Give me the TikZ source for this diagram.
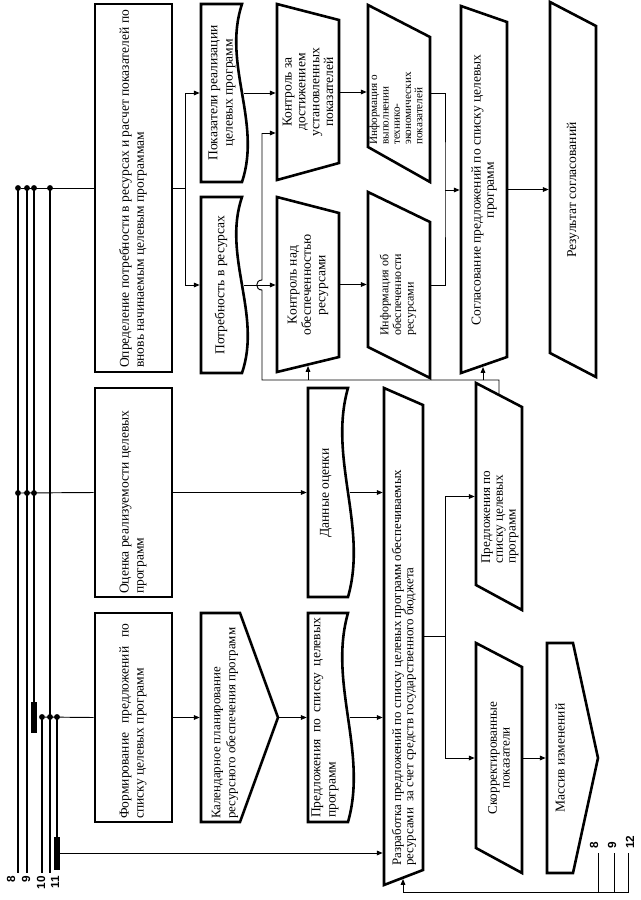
\documentclass[tikz,border=0pt]{standalone}
\usepackage{fontspec}
\setmainfont{Liberation Serif}
\newfontfamily\lblfont{Liberation Sans}
\usetikzlibrary{arrows.meta,fit}
\begin{document}
\begin{tikzpicture}[x=0.85pt,y=-0.85pt,
  shp/.style={line width=2.2pt, line join=miter},
  bb/.style={inner sep=0pt, outer sep=1.1pt},
  rbox/.style={bb, draw, line width=2.2pt},
  con/.style={line width=0.8pt},
  arr/.style={con, -{Triangle[length=5pt,width=4pt]}},
  bus/.style={line width=1pt},
  txt/.style={rotate=90, inner sep=0pt, font=\fontsize{11.5}{12.8}\selectfont},
  stxt/.style={rotate=90, inner sep=0pt, font=\fontsize{9.5}{9.6}\selectfont},
  lbl/.style={rotate=90, inner sep=0pt, font=\lblfont\bfseries\fontsize{10}{11}\selectfont},
  dot/.style={circle, fill, inner sep=0pt, minimum size=5pt}
]
\useasboundingbox (0,0) rectangle (641,900);

% ---------- column A ----------
\node[rbox, fit={(95,4)(172,372)}] (opr) {};
\node[txt, align=left, anchor=west] (oprt) at (133,368) {Определение потребности в ресурсах и расчет показателей по\\вновь начинаемым целевым программам};
\node[rbox, fit={(95,388)(172,597)}] (ots) {};
\node[txt, align=left, anchor=west] (otst) at (133,594) {Оценка реализуемости целевых\\программ};
\node[rbox, fit={(95,613)(172,822)}] (form) {};
\node[txt, align=justify, text width=166pt, anchor=west] (formt) at (133,819) {Формирование предложений по\linebreak списку целевых программ};

% ---------- column B ----------
\node[bb, fit={(201,4)(243,182)}] (pok) {};
\draw[shp] (201,4) -- (242,4) .. controls (222,64) and (262,122) .. (242,182) -- (201,182) -- cycle;
\node[txt, align=center] (pokt) at (222,93) {Показатели реализации\\целевых программ};
\node[bb, fit={(201,197)(243,373)}] (potr) {};
\draw[shp] (201,197) -- (242,197) .. controls (222,256) and (262,314) .. (242,373) -- (201,373) -- cycle;
\node[txt] (potrt) at (221,285) {Потребность в ресурсах};
\node[bb, fit={(201,613)(278,822)}] (kal) {};
\draw[shp] (201,613) -- (240,613) -- (278,717.5) -- (240,822) -- (201,822) -- cycle;
\node[txt, font=\fontsize{11}{12.8}\selectfont, align=left, anchor=west] (kalt) at (225,819) {Календарное планирование\\ресурсного обеспечения программ};

% ---------- column C ----------
\node[bb, fit={(277,4)(339,180)}] (kz) {};
\draw[shp] (277,4) -- (339,20) -- (339,163) -- (277,180) -- cycle;
\node[txt, font=\fontsize{11.5}{11.8}\selectfont, align=center] (kzt) at (308,92) {Контроль за\\достижением\\установленных\\показателей};
\node[bb, fit={(277,197)(339,372)}] (kn) {};
\draw[shp] (277,197) -- (339,213) -- (339,357) -- (277,372) -- cycle;
\node[txt, font=\fontsize{11.5}{12.2}\selectfont, align=center] (knt) at (308,285) {Контроль над\\обеспеченностью\\ресурсами};
\node[bb, fit={(308,388)(349,597)}] (dan) {};
\draw[shp] (308,388) -- (348,388) .. controls (328,458) and (368,527) .. (348,597) -- (308,597) -- cycle;
\node[txt] (dant) at (326,493) {Данные оценки};
\node[bb, fit={(308,613)(349,822)}] (predA) {};
\draw[shp] (308,613) -- (348,613) .. controls (328,683) and (368,752) .. (348,822) -- (308,822) -- cycle;
\node[txt, align=justify, text width=170pt, anchor=west] (predAt) at (325,818) {Предложения по списку целевых\linebreak программ};

% ---------- column D ----------
\node[bb, fit={(368,5)(430,182)}] (infA) {};
\draw[shp] (368,5) -- (430,37) -- (430,182) -- (368,147) -- cycle;
\node[stxt, align=left, anchor=west] (infAt) at (396,145) {Информация о\\выполнении\\технико-\\экономических\\показателей};
\node[bb, fit={(368,192)(430,378)}] (infB) {};
\draw[shp] (368,192) -- (430,222) -- (430,378) -- (368,347) -- cycle;
\node[stxt, font=\fontsize{10.2}{10.8}\selectfont, align=left, anchor=west] (infBt) at (398,336) {Информация об\\обеспеченности\\ресурсами};
\node[bb, fit={(384,388)(423,885)}] (razr) {};
\draw[shp] (384,388) -- (423,405) -- (423,870) -- (384,885) -- cycle;
\node[txt, font=\fontsize{11}{10.5}\selectfont, align=left, anchor=west] (razrt) at (404,866) {Разработка предложений по списку целевых программ обеспечиваемых\\ресурсами\ \ за счет средств государственного бюджета};

% ---------- column E ----------
\node[bb, fit={(461,6)(507,373)}] (sogl) {};
\draw[shp] (461,6) -- (507,22) -- (507,357) -- (461,373) -- cycle;
\node[txt, font=\fontsize{11.5}{11.2}\selectfont, align=center] (soglt) at (484,190) {Согласование предложений по списку целевых\\программ};
\node[bb, fit={(476,383)(522,610)}] (predB) {};
\draw[shp] (476,383) -- (522,407) -- (522,610) -- (476,585) -- cycle;
\node[txt, font=\fontsize{11.2}{10.8}\selectfont, align=left, anchor=west] (predBt) at (500,564) {Предложения по\\списку целевых\\программ};
\node[bb, fit={(476,643)(522,873)}] (skor) {};
\draw[shp] (476,643) -- (522,667) -- (522,873) -- (476,848) -- cycle;
\node[txt, font=\fontsize{11.2}{10.8}\selectfont, align=center] (skort) at (499,758) {Скорректированные\\показатели};

% ---------- column F ----------
\node[bb, fit={(550,2)(596,377)}] (res) {};
\draw[shp] (550,2) -- (596,26) -- (596,377) -- (550,353) -- cycle;
\node[txt] (rest) at (573,190) {Результат согласований};
\node[bb, fit={(547,643)(598,873)}] (mas) {};
\draw[shp] (547,643) -- (573,643) -- (598,758) -- (573,873) -- (547,873) -- cycle;
\node[txt] (mast) at (560,758) {Массив изменений};

% ---------- bus lines ----------
\draw[bus] (18,188) -- (18,873);
\draw[bus] (27,188) -- (27,873);
\draw[bus] (34,188) -- (34,702);
\draw[bus] (50,188) -- (50,873);
\draw[bus] (42,717) -- (42,873);
\draw[bus] (57,717) -- (57,837);
\fill (31,702) rectangle (37,733);
\fill (54,837) rectangle (60,870);
\node[dot] (dA1) at (18,188) {};
\node[dot] (dA2) at (27,188) {};
\node[dot] (dA3) at (34,188) {};
\node[dot] (dA4) at (50,188) {};
\node[dot] (dB1) at (18,493) {};
\node[dot] (dB2) at (27,493) {};
\node[dot] (dB3) at (34,493) {};
\node[dot] (dC1) at (42,717) {};
\node[dot] (dC2) at (50,717) {};
\node[dot] (dC3) at (57,717) {};
\draw[con] (dA1) -- (opr.west);
\draw[con] (dB1) -- (ots.west);
\draw[con] (dC1) -- (form.west);
\coordinate (barB) at (60,853);
\draw[arr] (barB) -- (barB -| razr.west);

\node[lbl, anchor=east] (lA) at (11,876) {8};
\node[lbl, anchor=east] (lB) at (26,876) {9};
\node[lbl, anchor=east] (lC) at (41,876) {10};
\node[lbl, anchor=east] (lD) at (55,876) {11};

% ---------- connectors ----------
\coordinate (b1) at (185,188);
\draw[con] (opr.east) -- (b1);
\draw[arr] (b1) |- (pok.west);
\draw[arr] (b1) |- (potr.west);
\draw[arr] (pok.east) -- (pok.east -| kz.west);
\draw[arr] (potr.east) -- (potr.east -| kn.west);
\draw[arr] (kz.east) -- (kz.east -| infA.west);
\draw[arr] (kn.east) -- (kn.east -| infB.west);
\coordinate (j1) at (445,190);
\draw[con] (infA.east) -| (j1) |- (infB.east);
\draw[arr] (j1) -- (j1 -| sogl.west);
\draw[arr] (sogl.east) -- (sogl.east -| res.west);

\draw[arr] (ots.east) -- (ots.east -| dan.west);
\draw[arr] (dan.east) -- (dan.east -| razr.west);
\draw[arr] (form.east) -- (form.east -| kal.west);
\draw[arr] (kal.east) -- (kal.east -| predA.west);
\draw[arr] (predA.east) -- (predA.east -| razr.west);

\coordinate (j2) at (445,636.5);
\draw[con] (razr.east) -- (j2);
\draw[arr] (j2) |- (predB.west);
\draw[arr] (j2) |- (skor.west);
\draw[arr] (skor.east) -- (skor.east -| mas.west);

% feedback from predB
\coordinate (p2t) at (499,394);
\coordinate (fb) at (262,133);
\coordinate (upS) at (483,380);
\coordinate (upK) at (308,380);
\draw[con] (p2t) -- (499,380) -- (262,380) -- (262,290) .. controls (255,290) and (255,280) .. (262,280) -- (fb);
\draw[arr] (fb) -- (fb -| kz.west);
\draw[arr] (upS) -- (483,367);
\draw[arr] (upK) -- (308,366);

% bottom loop
\coordinate (rb) at (403,879);
\coordinate (q8) at (598,853);
\coordinate (q9) at (614,853);
\coordinate (q12) at (628,853);
\draw[con] (q8) -- (598,892);
\draw[con] (q9) -- (614,892);
\draw[arr] (q12) -- (628,892) -- (403,892) -- (rb);
\node[lbl, anchor=west] (rA) at (594,849) {8};
\node[lbl, anchor=west] (rB) at (612,849) {9};
\node[lbl, anchor=west] (rC) at (630,849) {12};
\end{tikzpicture}
\end{document}
